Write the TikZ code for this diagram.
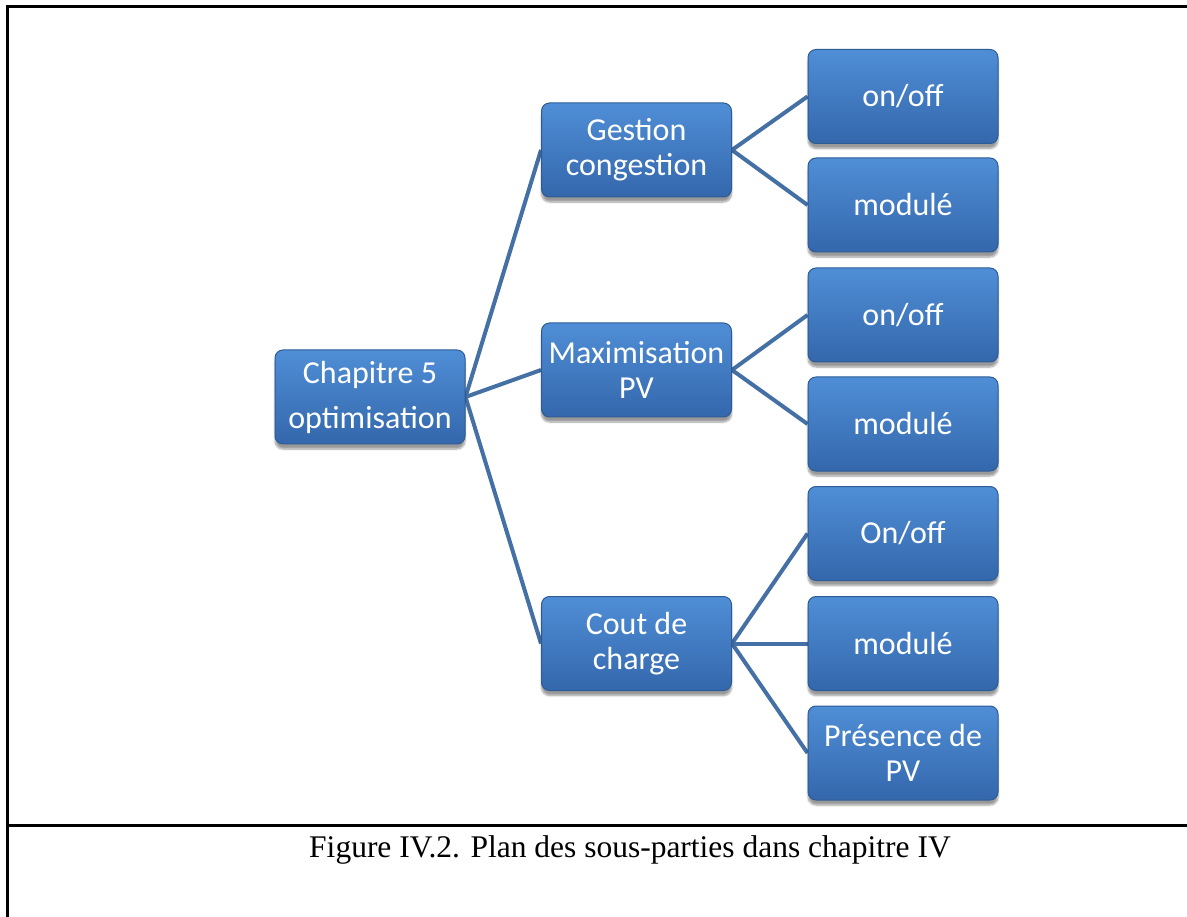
\documentclass[tikz,border=0pt]{standalone}
\usepackage{fontspec}
\setmainfont{Carlito}
\newfontfamily\capfont{Liberation Serif}
\usetikzlibrary{shadows.blur,backgrounds}
\definecolor{boxtop}{HTML}{4F8ED6}
\definecolor{boxbot}{HTML}{3467AC}
\definecolor{boxline}{HTML}{2D5C94}
\definecolor{linkcol}{HTML}{4570A6}
\tikzset{
  stepbox/.style={rounded corners=8pt, minimum width=190pt, minimum height=94pt,
    inner sep=0pt, top color=boxtop, bottom color=boxbot, draw=boxline, line width=1pt,
    text=white, align=center,
    font=\fontsize{32}{35}\selectfont,
    blur shadow={shadow xshift=0pt, shadow yshift=-5pt, shadow blur steps=6, shadow opacity=40}},
  link/.style={draw=linkcol, line width=4pt},
  frame/.style={line width=3pt, draw=black}
}
\begin{document}
\begin{tikzpicture}[x=1pt,y=-1pt]
\useasboundingbox (0,0) rectangle (1187,917);
% frame
\draw[frame] (7,917) -- (7,7) -- (1187,7);
\draw[frame] (7,825) -- (1187,825);
% nodes
\node[stepbox, font=\fontsize{32}{45}\selectfont] (root) at (370,397) {Chapitre 5\\optimisation};
\node[stepbox] (gc) at (636.5,150) {Gestion\\congestion};
\node[stepbox] (mp) at (636.5,370) {Maximisation\\PV};
\node[stepbox] (cc) at (636.5,643.5) {Cout de\\charge};
\node[stepbox] (a1) at (903,96.5) {on/off};
\node[stepbox] (a2) at (903,205) {modulé};
\node[stepbox] (b1) at (903,315) {on/off};
\node[stepbox] (b2) at (903,424) {modulé};
\node[stepbox] (c1) at (903,533.5) {On/off};
\node[stepbox] (c2) at (903,643.5) {modulé};
\node[stepbox] (c3) at (903,753) {Présence de\\PV};
% connectors
\begin{scope}[on background layer]
\draw[link] (root.east) -- (gc.west);
\draw[link] (root.east) -- (mp.west);
\draw[link] (root.east) -- (cc.west);
\draw[link] (gc.east) -- (a1.west);
\draw[link] (gc.east) -- (a2.west);
\draw[link] (mp.east) -- (b1.west);
\draw[link] (mp.east) -- (b2.west);
\draw[link] (cc.east) -- (c1.west);
\draw[link] (cc.east) -- (c2.west);
\draw[link] (cc.east) -- (c3.west);
\end{scope}
% caption
\node[font=\capfont\fontsize{31.5}{36}\selectfont, anchor=base] (cap) at (630,857) {Figure IV.2. Plan des sous-parties dans chapitre IV};
\end{tikzpicture}
\end{document}
